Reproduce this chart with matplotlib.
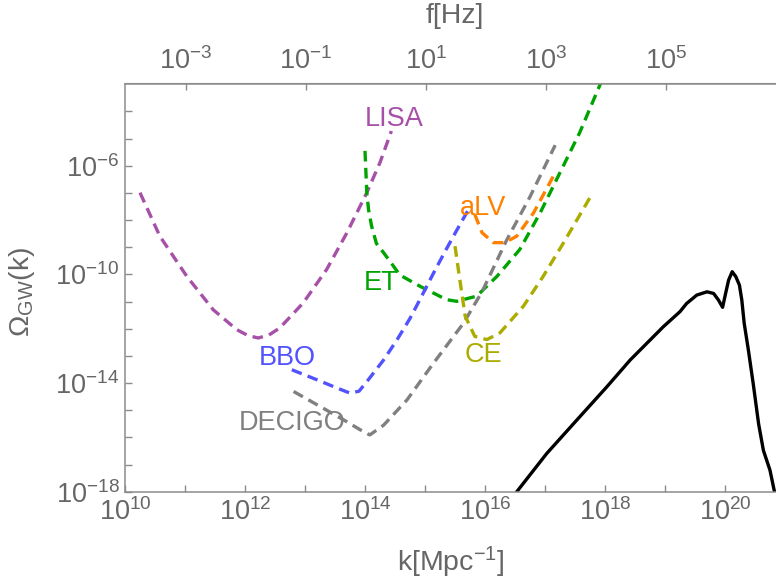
"""Gravitational-wave spectrum against detector sensitivity curves."""

import matplotlib

matplotlib.use("Agg")
import matplotlib.pyplot as plt
import numpy as np

plt.rcParams["font.family"] = ["Liberation Sans", "DejaVu Sans"]
plt.rcParams["mathtext.fontset"] = "custom"
plt.rcParams["mathtext.rm"] = "Liberation Sans"
plt.rcParams["mathtext.it"] = "Liberation Sans:italic"

# curves as (log10 k [Mpc^-1], log10 Omega_GW)
lisa_logk = [10.25, 10.58, 11.03, 11.47, 11.86, 12.05, 12.22, 12.40, 12.58, 12.97, 13.36, 13.70, 14.03, 14.25, 14.44]
lisa_logo = [-6.99, -8.59, -10.07, -11.30, -12.03, -12.25, -12.34, -12.23, -11.97, -11.05, -9.82, -8.46, -6.99, -5.88, -4.72]

et_logk = [14.00, 14.03, 14.06, 14.11, 14.19, 14.31, 14.44, 14.58, 14.92, 15.36, 15.53, 15.86, 16.20, 16.58,
           16.92, 17.25, 17.58, 17.92, 18.00]
et_logo = [-5.45, -6.99, -7.63, -8.22, -8.86, -9.20, -9.59, -10.02, -10.44, -10.93, -10.99, -10.80, -10.07,
           -9.08, -7.73, -6.25, -4.77, -3.00, -2.60]

bbo_logk = [12.78, 13.20, 13.53, 13.75, 13.90, 14.03, 14.31, 14.53, 14.75, 14.94, 15.14, 15.33, 15.53, 15.72]
bbo_logo = [-13.51, -13.88, -14.18, -14.37, -14.30, -13.95, -13.15, -12.42, -11.62, -10.82, -9.96, -9.17, -8.37, -7.63]

decigo_logk = [12.81, 13.25, 13.64, 13.92, 14.08, 14.31, 14.70, 15.14, 15.64, 15.95, 16.36, 16.75, 17.17]
decigo_logo = [-14.31, -14.86, -15.35, -15.72, -15.91, -15.55, -14.62, -13.27, -11.80, -10.64, -8.74, -7.14, -5.24]

alv_logk = [15.83, 15.95, 16.14, 16.33, 16.53, 16.81, 17.14]
alv_logo = [-7.79, -8.46, -8.83, -8.83, -8.59, -7.73, -6.38]

ce_logk = [15.50, 15.58, 15.67, 15.83, 16.03, 16.25, 16.64, 16.97, 17.31, 17.75]
ce_logo = [-8.96, -10.19, -11.54, -12.28, -12.40, -12.15, -11.17, -10.07, -8.83, -7.17]

signal_logk = [16.42, 16.53, 17.03, 17.58, 18.03, 18.42, 18.97, 19.25, 19.36, 19.53, 19.70, 19.81, 19.89,
               19.96, 20.01, 20.06, 20.12, 20.18, 20.24, 20.28, 20.32, 20.39, 20.47, 20.56, 20.64, 20.75,
               20.83, 20.88]
signal_logo = [-18.5, -18.0, -16.59, -15.24, -14.14, -13.15, -11.93, -11.37, -11.07, -10.76, -10.64, -10.70,
               -10.94, -11.21, -10.70, -10.21, -9.90, -10.08, -10.39, -10.94, -11.80, -12.79, -14.02, -15.50,
               -16.48, -17.21, -18.06, -18.5]

x_exponents = list(range(10, 21))
y_exponents = list(range(-18, -3))
f_exponents = [-3, -1, 1, 3, 5]

# f = k c / Mpc (no 2 pi), c / Mpc in 1/s
K_TO_HZ = 9.7e-15

detectors = [
    ("LISA", lisa_logk, lisa_logo, "#A650A8", (14.49, -4.53)),
    ("ET", et_logk, et_logo, "#00A400", (14.27, -10.58)),
    ("BBO", bbo_logk, bbo_logo, "#5252FF", (12.70, -13.34)),
    ("DECIGO", decigo_logk, decigo_logo, "#808080", (12.78, -15.73)),
    ("aLV", alv_logk, alv_logo, "#FF8000", (15.97, -7.82)),
    ("CE", ce_logk, ce_logo, "#ABAB00", (15.97, -13.22)),
]

axis_grey = "#8c8c8c"
text_grey = "#666666"

fig = plt.figure(figsize=(7.76, 5.81), dpi=100)
ax = fig.add_axes([125 / 776, 89.3 / 581, 651 / 776, 408.2 / 581])

for name, logk, logo, color, (lx, ly) in detectors:
    ax.plot(10.0 ** np.array(logk), 10.0 ** np.array(logo), color=color, lw=2.4,
            linestyle=(0, (3.2, 1.9)))
    ax.text(10.0 ** lx, 10.0 ** ly, name, color=color, fontsize=19.5, ha="center", va="baseline")

ax.plot(10.0 ** np.array(signal_logk), 10.0 ** np.array(signal_logo), color="black", lw=2.4)

ax.set_xscale("log")
ax.set_yscale("log")
ax.set_xlim(1e10, 10 ** (10 + 651 / 60))
ax.set_ylim(1e-18, 10 ** -2.97)

ax.set_xticks([10.0 ** e for e in x_exponents])
ax.set_xticklabels([f"$\\mathregular{{10^{{{e}}}}}$" if e % 2 == 0 else "" for e in x_exponents])
ax.set_yticks([10.0 ** e for e in y_exponents])
ax.set_yticklabels([f"$\\mathregular{{10^{{{e}}}}}$" if e % 4 == 2 else "" for e in y_exponents])
ax.minorticks_off()
ax.tick_params(direction="in", length=5, width=1, color=axis_grey, labelcolor=text_grey, labelsize=19.5)
ax.tick_params(axis="x", pad=5)
ax.tick_params(axis="y", pad=4)

for side in ["left", "bottom", "top"]:
    ax.spines[side].set_color(axis_grey)
    ax.spines[side].set_linewidth(1.1)
ax.spines["right"].set_visible(False)

ax.set_xlabel("$\\mathregular{k[Mpc^{-1}]}$", fontsize=20.5, color=text_grey)
ax.xaxis.set_label_coords(0.5, -0.13)
ax.set_ylabel("$\\mathregular{\\Omega_{GW}(k)}$", fontsize=20.5, color=text_grey)
ax.yaxis.set_label_coords(-0.135, 0.49)

top = ax.secondary_xaxis("top", functions=(lambda k: k * K_TO_HZ, lambda f: f / K_TO_HZ))
top.set_xticks([10.0 ** e for e in f_exponents])
top.set_xticklabels([f"$\\mathregular{{10^{{{e}}}}}$" for e in f_exponents])
top.minorticks_off()
top.tick_params(direction="in", length=5, width=1, color=axis_grey, labelcolor=text_grey, labelsize=19.5, pad=6)
top.spines["top"].set_color(axis_grey)
fig.text(455 / 776, 1 - 16 / 581, "f[Hz]", fontsize=20.5, color=text_grey, ha="center", va="center")

fig.savefig("out.png", dpi=100)
